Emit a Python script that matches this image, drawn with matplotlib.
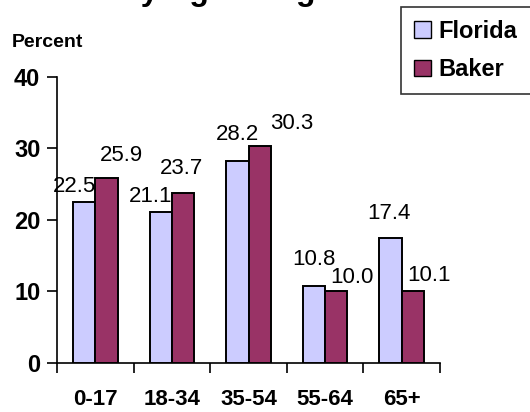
import matplotlib
matplotlib.use('Agg')
import matplotlib.pyplot as plt
from matplotlib.patches import Patch
import numpy as np

plt.rcParams['font.family'] = ['Liberation Sans', 'DejaVu Sans']

TITLE = 'Population by Age Range'
categories = ['0-17', '18-34', '35-54', '55-64', '65+']
florida = [22.5, 21.1, 28.2, 10.8, 17.4]
baker = [25.9, 23.7, 30.3, 10.0, 10.1]
y_ticks = [0, 10, 20, 30, 40]

# label offsets in points (dx, dy above the bar top), as placed in the original
florida_offsets = [(-7, 7), (-7, 7), (0, 15), (0, 15), (-1, 14)]
baker_offsets = [(11, 12), (-1, 14), (23, 12), (11, 6), (12, 7)]

FLORIDA_COLOR = '#CCCCFF'
BAKER_COLOR = '#993366'

fig = plt.figure(figsize=(5.3, 4.12), dpi=100)
ax = fig.add_axes([57 / 530, 1 - 363 / 412, 383 / 530, (363 - 76.7) / 412])

x = np.arange(len(categories))
w = 0.29
ax.bar(x - w / 2, florida, w, color=FLORIDA_COLOR, edgecolor='black', linewidth=1.4, zorder=3)
ax.bar(x + w / 2, baker, w, color=BAKER_COLOR, edgecolor='black', linewidth=1.4, zorder=3)

for i in range(len(categories)):
    ax.annotate(f'{florida[i]:.1f}', (x[i] - w / 2, florida[i]), xytext=florida_offsets[i],
                textcoords='offset points', ha='center', va='baseline', fontsize=16)
    ax.annotate(f'{baker[i]:.1f}', (x[i] + w / 2, baker[i]), xytext=baker_offsets[i],
                textcoords='offset points', ha='center', va='baseline', fontsize=16)

ax.set_xlim(-0.5, len(categories) - 0.5)
ax.set_ylim(0, 40)
ax.set_yticks(y_ticks)
ax.set_yticklabels([str(t) for t in y_ticks], fontsize=17, fontweight='bold')
ax.set_xticks(x)
ax.set_xticklabels(categories, fontsize=16, fontweight='bold')
ax.tick_params(axis='x', length=0, pad=19)
ax.set_xticks(np.arange(-0.5, len(categories), 1), minor=True)
ax.tick_params(axis='x', which='minor', length=7, width=1.2, direction='out')
ax.tick_params(axis='y', length=7, width=1.2, direction='out', pad=5)

for s in ['top', 'right']:
    ax.spines[s].set_visible(False)
for s in ['left', 'bottom']:
    ax.spines[s].set_linewidth(1.2)

fig.text(12 / 530, 1 - 47 / 412, 'Percent', fontsize=14, fontweight='bold', va='baseline')
fig.text(333 / 530, 1.0, TITLE, fontsize=23, fontweight='bold', ha='right', va='baseline')

handles = [Patch(facecolor=FLORIDA_COLOR, edgecolor='black', label='Florida'),
           Patch(facecolor=BAKER_COLOR, edgecolor='black', label='Baker')]
leg = fig.legend(handles=handles, loc='upper left', bbox_to_anchor=(401 / 530, 1 - 7 / 412),
                 frameon=True, fancybox=False, edgecolor='black',
                 prop={'weight': 'bold', 'size': 17}, handlelength=0.7, handleheight=0.7,
                 handletextpad=0.35, labelspacing=0.65, borderpad=0.55, borderaxespad=0)
leg.get_frame().set_linewidth(1.2)

fig.savefig('out.png', dpi=100)
